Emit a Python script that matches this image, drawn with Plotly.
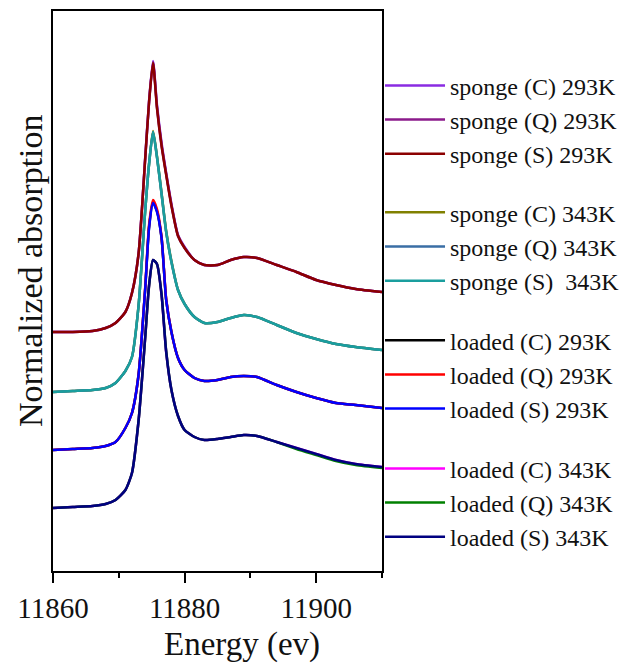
import plotly.graph_objects as go

# Energy grid (eV)
energy = [11860, 11863, 11866, 11868, 11869.5, 11871, 11872, 11873, 11874, 11874.6,
          11875.2, 11875.8, 11876.5, 11877.2, 11878, 11879, 11880, 11881.5, 11883,
          11885, 11887, 11889, 11891, 11894, 11897, 11900, 11903, 11906, 11910]

# Normalized absorption (before vertical stacking offset)
sponge_C_293 = [0.00, 0.00, 0.01, 0.04, 0.09, 0.20, 0.39, 0.78, 1.73, 2.31, 2.71, 2.27, 1.89, 1.59, 1.28, 0.97, 0.85, 0.72, 0.67, 0.67, 0.72, 0.75, 0.74, 0.67, 0.60, 0.52, 0.47, 0.43, 0.40]
sponge_Q_293 = [0.00, 0.00, 0.01, 0.04, 0.09, 0.20, 0.39, 0.78, 1.72, 2.30, 2.70, 2.25, 1.87, 1.58, 1.27, 0.96, 0.84, 0.72, 0.67, 0.67, 0.72, 0.75, 0.74, 0.67, 0.60, 0.52, 0.47, 0.43, 0.40]
sponge_S_293 = [0.00, 0.00, 0.01, 0.04, 0.09, 0.20, 0.39, 0.78, 1.72, 2.30, 2.69, 2.24, 1.86, 1.57, 1.26, 0.96, 0.84, 0.72, 0.67, 0.67, 0.72, 0.75, 0.74, 0.67, 0.60, 0.52, 0.47, 0.43, 0.40]

sponge_C_343 = [0.00, 0.01, 0.02, 0.04, 0.09, 0.21, 0.35, 0.86, 1.80, 2.28, 2.61, 2.36, 1.99, 1.61, 1.31, 1.02, 0.88, 0.75, 0.69, 0.70, 0.74, 0.77, 0.75, 0.67, 0.59, 0.53, 0.48, 0.45, 0.42]
sponge_Q_343 = [0.00, 0.01, 0.02, 0.04, 0.09, 0.21, 0.35, 0.86, 1.80, 2.28, 2.60, 2.35, 1.98, 1.60, 1.30, 1.02, 0.88, 0.75, 0.69, 0.70, 0.74, 0.77, 0.75, 0.67, 0.59, 0.53, 0.48, 0.45, 0.42]
sponge_S_343 = [0.00, 0.01, 0.02, 0.04, 0.09, 0.21, 0.35, 0.86, 1.80, 2.28, 2.60, 2.35, 1.98, 1.60, 1.30, 1.02, 0.88, 0.75, 0.69, 0.70, 0.74, 0.77, 0.75, 0.67, 0.59, 0.53, 0.48, 0.45, 0.42]

loaded_C_293 = [0.00, 0.01, 0.02, 0.04, 0.08, 0.22, 0.37, 0.75, 1.60, 2.23, 2.48, 2.39, 2.12, 1.50, 1.18, 0.92, 0.80, 0.72, 0.69, 0.70, 0.73, 0.74, 0.73, 0.65, 0.58, 0.52, 0.47, 0.45, 0.42]
loaded_Q_293 = [0.00, 0.01, 0.02, 0.04, 0.08, 0.22, 0.37, 0.75, 1.61, 2.25, 2.50, 2.41, 2.13, 1.51, 1.18, 0.92, 0.80, 0.72, 0.69, 0.70, 0.73, 0.74, 0.73, 0.65, 0.58, 0.52, 0.47, 0.45, 0.42]
loaded_S_293 = [0.00, 0.01, 0.02, 0.04, 0.08, 0.22, 0.37, 0.75, 1.60, 2.22, 2.47, 2.38, 2.12, 1.50, 1.18, 0.92, 0.80, 0.72, 0.69, 0.70, 0.73, 0.74, 0.73, 0.65, 0.58, 0.52, 0.47, 0.45, 0.42]

loaded_C_343 = [0.00, 0.01, 0.02, 0.04, 0.08, 0.18, 0.35, 0.87, 1.69, 2.22, 2.48, 2.44, 2.13, 1.56, 1.18, 0.92, 0.78, 0.71, 0.68, 0.69, 0.71, 0.73, 0.72, 0.66, 0.60, 0.54, 0.48, 0.44, 0.41]
loaded_Q_343 = [0.00, 0.01, 0.02, 0.04, 0.08, 0.18, 0.35, 0.87, 1.69, 2.22, 2.48, 2.44, 2.14, 1.57, 1.18, 0.92, 0.78, 0.71, 0.68, 0.69, 0.71, 0.73, 0.72, 0.66, 0.59, 0.53, 0.47, 0.43, 0.40]
loaded_S_343 = [0.00, 0.01, 0.02, 0.04, 0.08, 0.18, 0.35, 0.87, 1.70, 2.23, 2.48, 2.44, 2.13, 1.56, 1.18, 0.92, 0.78, 0.71, 0.68, 0.69, 0.71, 0.73, 0.72, 0.66, 0.60, 0.54, 0.48, 0.44, 0.41]

# Vertical stacking offsets per group
group_offsets = [2.39, 1.79, 1.21, 0.63]

# x-axis tick labels
x_tickvals = [11860, 11880, 11900]
x_ticktext = ["11860", "11880", "11900"]

series_names = [
    ["sponge (C) 293K", "sponge (Q) 293K", "sponge (S) 293K"],
    ["sponge (C) 343K", "sponge (Q) 343K", "sponge (S)  343K"],
    ["loaded (C) 293K", "loaded (Q) 293K", "loaded (S) 293K"],
    ["loaded (C) 343K", "loaded (Q) 343K", "loaded (S) 343K"],
]
series_values = [
    [sponge_C_293, sponge_Q_293, sponge_S_293],
    [sponge_C_343, sponge_Q_343, sponge_S_343],
    [loaded_C_293, loaded_Q_293, loaded_S_293],
    [loaded_C_343, loaded_Q_343, loaded_S_343],
]
series_colors = [
    ["#8A2BE2", "#8B1A8B", "#8B0000"],
    ["#808000", "#3A6EA5", "#1A9E9E"],
    ["#000000", "#FF0000", "#0000FF"],
    ["#FF00FF", "#008000", "#000080"],
]

legend_ids = ["legend", "legend2", "legend3", "legend4"]
FONT = "Liberation Serif, Times New Roman, serif"

fig = go.Figure()
for g in range(4):
    for k in range(3):
        yvals = [v + group_offsets[g] for v in series_values[g][k]]
        fig.add_trace(go.Scatter(
            x=energy, y=yvals, mode="lines", name=series_names[g][k],
            line=dict(color=series_colors[g][k], width=2.5, shape="spline", smoothing=0.6),
            legend=legend_ids[g],
        ))

legend_tops = [0.9066, 0.680, 0.4516, 0.2227]
legend_common = dict(x=0.994, xanchor="left", yanchor="top", bgcolor="rgba(0,0,0,0)",
                     font=dict(family=FONT, size=24, color="#111"), itemwidth=60,
                     tracegroupgap=0)
layout_legends = {}
for lid, top in zip(legend_ids, legend_tops):
    layout_legends[lid] = dict(y=top, **legend_common)

fig.update_layout(
    width=635, height=663,
    margin=dict(l=53, r=253, t=11, b=92, autoexpand=False),
    paper_bgcolor="white", plot_bgcolor="white",
    showlegend=True,
    font=dict(family=FONT, color="#111"),
    xaxis=dict(
        range=[11860, 11910], tickvals=x_tickvals, ticktext=x_ticktext,
        ticks="outside", ticklen=10, tickwidth=2, tickcolor="black",
        minor=dict(dtick=10, tick0=11860, ticks="outside", ticklen=5, tickwidth=2, tickcolor="black"),
        showline=True, linecolor="black", linewidth=2, mirror=True,
        showgrid=False, zeroline=False, automargin=False,
        tickfont=dict(family=FONT, size=29, color="#111"),
    ),
    yaxis=dict(
        range=[0, 5.6], showticklabels=False, ticks="",
        showline=True, linecolor="black", linewidth=2, mirror=True,
        showgrid=False, zeroline=False, automargin=False,
    ),
    annotations=[
        dict(
            text="Normalized absorption", xref="paper", yref="paper",
            x=-0.07, y=0.5375, xanchor="center", yanchor="middle", textangle=-90,
            showarrow=False, font=dict(family=FONT, size=34, color="#111"),
        ),
        dict(
            text="Energy (ev)", xref="paper", yref="paper",
            x=0.574, y=-0.0955, xanchor="center", yanchor="top",
            showarrow=False, font=dict(family=FONT, size=33, color="#111"),
        ),
    ],
    **layout_legends,
)

fig.write_html("out.html")
